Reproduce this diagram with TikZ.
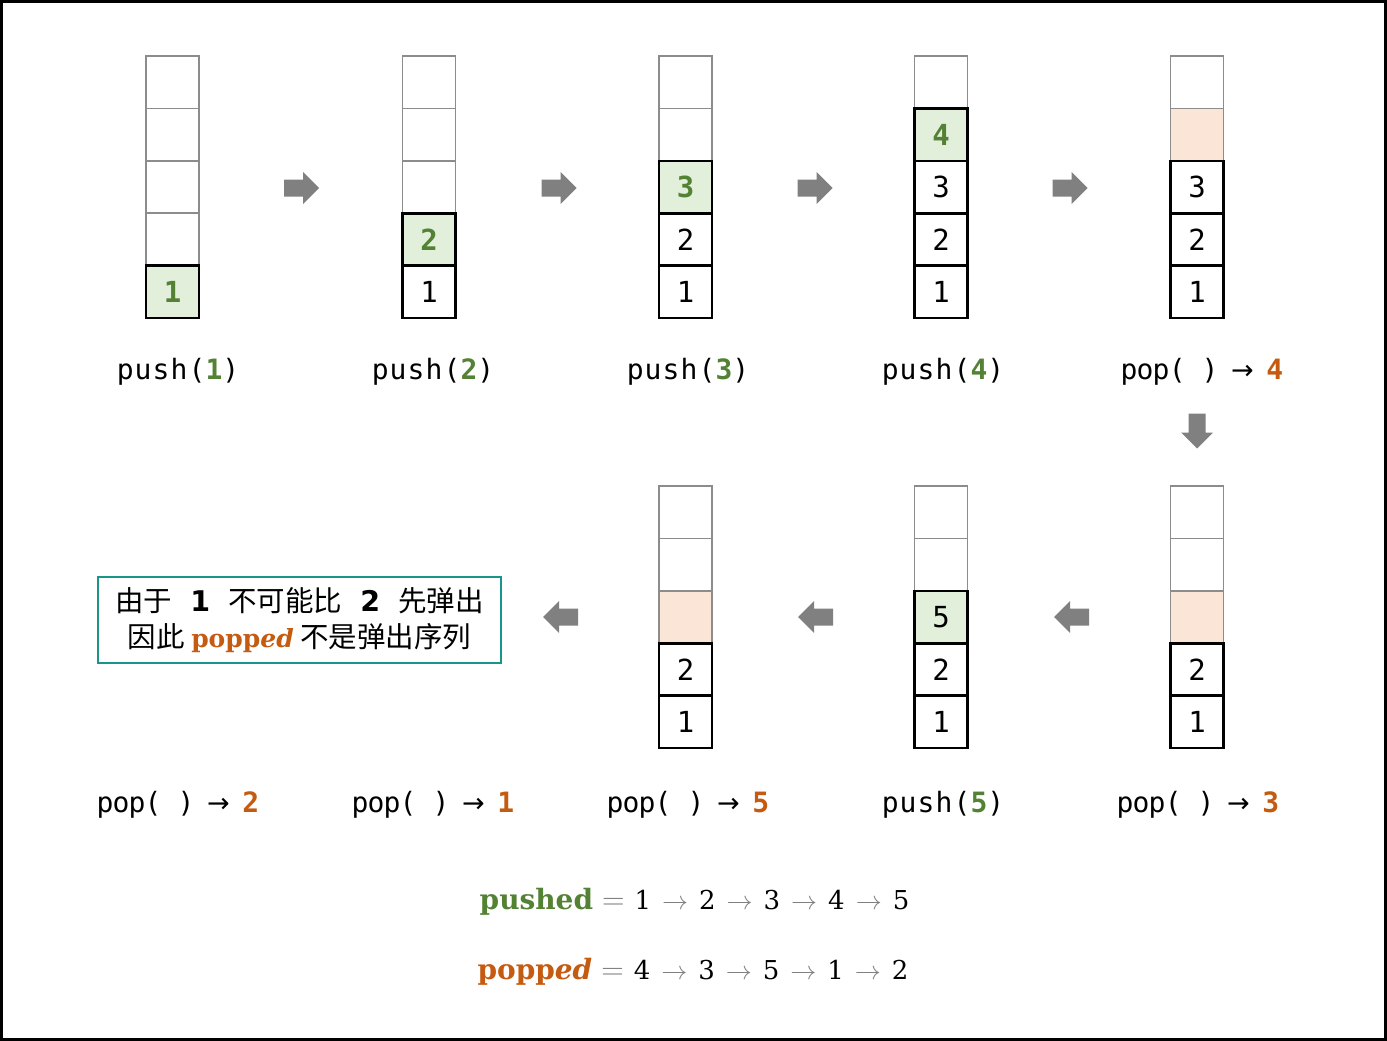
\RequirePackage{fix-cm}
\documentclass[tikz,border=0pt]{standalone}
\usepackage{fontspec}
\usepackage{graphicx}
\setmainfont{DejaVu Serif}
\newfontfamily\monof[LetterSpace=4]{DejaVu Sans Mono}
\newfontfamily\monopf[LetterSpace=-3]{DejaVu Sans Mono}
\newfontfamily\cellf{DejaVu Sans Mono}
\newfontfamily\cjkf{Noto Sans CJK SC}
\newfontfamily\sansf{DejaVu Sans}
\newfontfamily\seriff{DejaVu Serif}
\definecolor{pgreen}{RGB}{84,130,53}
\definecolor{porange}{RGB}{197,90,17}
\definecolor{greenfill}{RGB}{226,239,218}
\definecolor{peachfill}{RGB}{251,229,214}
\definecolor{cellgray}{RGB}{140,140,140}
\definecolor{arrowgray}{RGB}{128,128,128}
\definecolor{boxteal}{RGB}{25,150,135}
\newcommand\arr{\hspace{11pt}{\color{arrowgray}$\rightarrow$}\hspace{11pt}}
\newcommand\eqs{\hspace{9pt}{\color{arrowgray}\scalebox{1.2}{$=$}}\hspace{10pt}}
\newcommand\popto{\makebox[16pt]{\sansf\fontsize{27}{27}\selectfont →}}
\begin{document}
\begin{tikzpicture}[x=1pt,y=-1pt,
  ecell/.style={draw=cellgray, line width=1.6pt, minimum width=53pt, minimum height=52.4pt, inner sep=0pt, font=\cellf\fontsize{29}{32}\selectfont},
  fcell/.style={ecell, draw=black, line width=2.6pt},
  gcell/.style={fcell, fill=greenfill, text=pgreen, font=\cellf\bfseries\fontsize{29}{32}\selectfont},
  gfcell/.style={fcell, fill=greenfill},
  pcell/.style={ecell, fill=peachfill},
  lbl/.style={font=\monof\fontsize{28}{32}\selectfont, inner sep=0pt},
  plbl/.style={font=\monopf\fontsize{28}{32}\selectfont, inner sep=0pt},
  barrow/.pic={\fill[arrowgray] (-17.5,-8.5) -- (1.5,-8.5) -- (1.5,-16) -- (17.5,0) -- (1.5,16) -- (1.5,8.5) -- (-17.5,8.5) -- cycle;}
]
\useasboundingbox (0,0) rectangle (1387,1041);
\draw[line width=3pt] (1.5,1.5) rectangle (1385.5,1039.5);

% ---- stack A
\node[ecell] (a5) at (172.5,82.2) {};
\node[ecell] (a4) at (172.5,134.6) {};
\node[ecell] (a3) at (172.5,187) {};
\node[ecell] (a2) at (172.5,239.4) {};
\node[gcell] (a1) at (172.5,291.8) {1};
% ---- stack B
\node[ecell] (b5) at (429,82.2) {};
\node[ecell] (b4) at (429,134.6) {};
\node[ecell] (b3) at (429,187) {};
\node[fcell] (b1) at (429,291.8) {1};
\node[gcell] (b2) at (429,239.4) {2};
% ---- stack C
\node[ecell] (c5) at (685.5,82.2) {};
\node[ecell] (c4) at (685.5,134.6) {};
\node[fcell] (c1) at (685.5,291.8) {1};
\node[fcell] (c2) at (685.5,239.4) {2};
\node[gcell] (c3) at (685.5,187) {3};
% ---- stack D
\node[ecell] (d5) at (941,82.2) {};
\node[fcell] (d1) at (941,291.8) {1};
\node[fcell] (d2) at (941,239.4) {2};
\node[fcell] (d3) at (941,187) {3};
\node[gcell] (d4) at (941,134.6) {4};
% ---- stack E
\node[ecell] (e5) at (1197,82.2) {};
\node[pcell] (e4) at (1197,134.6) {};
\node[fcell] (e1) at (1197,291.8) {1};
\node[fcell] (e2) at (1197,239.4) {2};
\node[fcell] (e3) at (1197,187) {3};
% ---- stack F
\node[ecell] (f5) at (1197,512.2) {};
\node[ecell] (f4) at (1197,564.6) {};
\node[pcell] (f3) at (1197,617) {};
\node[fcell] (f1) at (1197,721.8) {1};
\node[fcell] (f2) at (1197,669.4) {2};
% ---- stack G
\node[ecell] (g5) at (941,512.2) {};
\node[ecell] (g4) at (941,564.6) {};
\node[fcell] (g1) at (941,721.8) {1};
\node[fcell] (g2) at (941,669.4) {2};
\node[gfcell] (g3) at (941,617) {5};
% ---- stack H
\node[ecell] (h5) at (685.5,512.2) {};
\node[ecell] (h4) at (685.5,564.6) {};
\node[pcell] (h3) at (685.5,617) {};
\node[fcell] (h1) at (685.5,721.8) {1};
\node[fcell] (h2) at (685.5,669.4) {2};

% ---- labels
\node[lbl] (la) at (178,371.5) {push({\bfseries\color{pgreen}1})};
\node[lbl] (lb) at (433,371.5) {push({\bfseries\color{pgreen}2})};
\node[lbl] (lc) at (688,371.5) {push({\bfseries\color{pgreen}3})};
\node[lbl] (ld) at (943,371.5) {push({\bfseries\color{pgreen}4})};
\node[plbl] (le) at (1202,371.5) {pop( ) \popto{} {\bfseries\color{porange}4}};
\node[plbl] (lf) at (1198,804.5) {pop( ) \popto{} {\bfseries\color{porange}3}};
\node[lbl] (lg) at (943,804.5) {push({\bfseries\color{pgreen}5})};
\node[plbl] (lh) at (688,804.5) {pop( ) \popto{} {\bfseries\color{porange}5}};
\node[plbl] (li) at (433,804.5) {pop( ) \popto{} {\bfseries\color{porange}1}};
\node[plbl] (lj) at (178,804.5) {pop( ) \popto{} {\bfseries\color{porange}2}};

% ---- block arrows
\pic at (301.5,188) {barrow};
\pic at (559,188) {barrow};
\pic at (815,188) {barrow};
\pic at (1070,188) {barrow};
\pic[rotate=-90] at (1197,431) {barrow};
\pic[rotate=180] at (1071.5,617) {barrow};
\pic[rotate=180] at (815.5,617) {barrow};
\pic[rotate=180] at (560.5,617) {barrow};

% ---- note box
\node[draw=boxteal, line width=2pt, minimum width=403pt, minimum height=86pt, inner sep=0pt, align=center,
      font=\cjkf\fontsize{28.5}{36}\selectfont] (note) at (299.5,620)
  {由于\hspace{18pt}{\sansf\bfseries 1}\hspace{18pt}不可能比\hspace{18pt}{\sansf\bfseries 2}\hspace{18pt}先弹出\\
   因此 {\seriff\bfseries\color{porange}\fontsize{25}{36}\selectfont popp\itshape ed} 不是弹出序列};

% ---- formulas
\node[font=\seriff\fontsize{26}{32}\selectfont, inner sep=0pt] (pusheq) at (694.5,902)
  {{\fontsize{28}{32}\selectfont\bfseries\color{pgreen}pushed}\eqs 1\arr 2\arr 3\arr 4\arr 5};
\node[font=\seriff\fontsize{26}{32}\selectfont, inner sep=0pt] (popeq) at (693,972)
  {{\fontsize{28}{32}\selectfont\bfseries\color{porange}popp\itshape ed}\eqs 4\arr 3\arr 5\arr 1\arr 2};
\end{tikzpicture}
\end{document}
